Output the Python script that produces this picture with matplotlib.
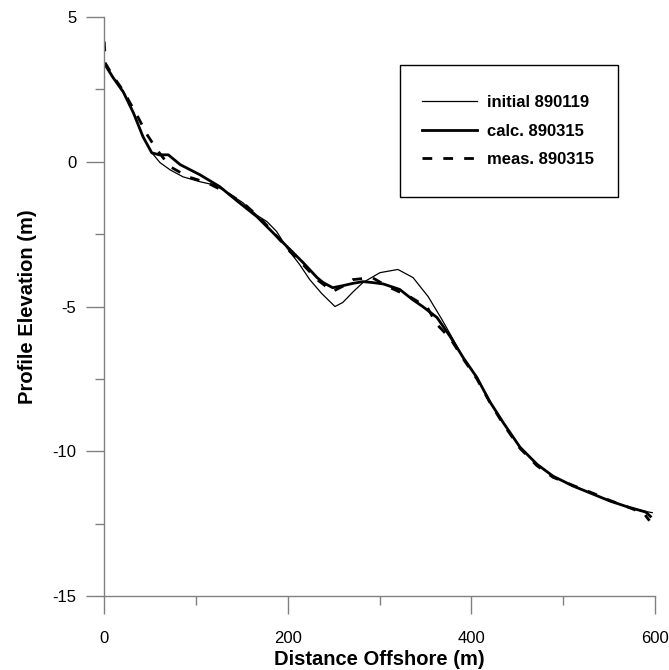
import numpy as np
import matplotlib.pyplot as plt
from matplotlib.ticker import MultipleLocator
from matplotlib.patches import Rectangle

plt.rcParams['font.family'] = ['Liberation Sans', 'DejaVu Sans']
plt.rcParams['axes.unicode_minus'] = False

# initial profile 890119
init_x = [0, 10, 21, 32, 42.5, 52, 61, 72, 86, 104.5, 118.7, 129.6, 151, 166.6, 177.5, 188, 199,
          213, 224, 237, 251.5, 260, 271, 282, 300.5, 320, 336.5, 353, 368, 379, 391, 406, 420,
          434.5, 453, 471.5, 489, 510.7, 532.5, 551, 570, 590, 597]
init_y = [3.41, 2.9, 2.41, 1.69, 0.86, 0.31, -0.03, -0.28, -0.52, -0.69, -0.79, -0.97, -1.41, -1.85,
          -2.07, -2.41, -2.97, -3.55, -4.07, -4.55, -5.0, -4.86, -4.5, -4.17, -3.83, -3.72, -4.0,
          -4.66, -5.45, -6.07, -6.76, -7.45, -8.28, -9.0, -9.86, -10.45, -10.86, -11.2, -11.48,
          -11.72, -11.92, -12.08, -12.12]

# calculated 890315
calc_x = [0, 10, 21, 32, 42.5, 52, 60, 70, 83, 104.5, 126, 146, 166.6, 184, 202.5, 216.7, 232,
          238.5, 249, 260, 271, 282, 292, 304, 322, 336, 347, 362.6, 376.8, 391, 406, 420, 434.5,
          453, 471.5, 489, 510.7, 532.5, 551, 570, 590, 595]
calc_y = [3.41, 2.9, 2.41, 1.69, 0.86, 0.31, 0.24, 0.24, -0.1, -0.45, -0.86, -1.38, -1.9, -2.45,
          -3.03, -3.48, -4.0, -4.17, -4.35, -4.28, -4.2, -4.14, -4.17, -4.22, -4.41, -4.76, -5.0,
          -5.38, -6.03, -6.76, -7.45, -8.28, -9.0, -9.86, -10.45, -10.86, -11.2, -11.48, -11.72,
          -11.92, -12.1, -12.25]

# measured 890315
meas_x = [0.3, 1.5, 10, 21, 36, 47, 57.7, 72, 91.5, 112, 134, 153.5, 170, 186, 202.5, 216.7, 232,
          249, 260, 271, 292, 309, 333, 352, 362, 377, 391, 406, 420, 434.5, 453, 471.5, 489,
          510.7, 532.5, 551, 570, 588, 594]
meas_y = [4.15, 3.4, 2.95, 2.45, 1.6, 0.93, 0.41, -0.17, -0.52, -0.72, -1.07, -1.48, -1.95, -2.5,
          -3.1, -3.55, -4.07, -4.48, -4.3, -4.07, -4.0, -4.31, -4.66, -5.03, -5.6, -6.1, -6.8,
          -7.5, -8.3, -9.05, -9.9, -10.5, -10.9, -11.18, -11.45, -11.7, -11.92, -12.15, -12.4]

fig = plt.figure(figsize=(6.69, 6.70), dpi=100)
ax = fig.add_axes([0.1555, 0.1104, 0.8236, 0.8642])

ax.plot(init_x, init_y, color='black', lw=0.9, label='initial 890119')
ax.plot(calc_x, calc_y, color='black', lw=2.0, label='calc. 890315')
ax.plot(meas_x, meas_y, color='black', lw=2.0, dashes=(3.5, 4), label='meas. 890315')

ax.set_xlim(0, 600)
ax.set_ylim(-15, 5)
ax.xaxis.set_major_locator(MultipleLocator(200))
ax.xaxis.set_minor_locator(MultipleLocator(100))
ax.yaxis.set_major_locator(MultipleLocator(5))
ax.yaxis.set_minor_locator(MultipleLocator(2.5))

for s in ['top', 'right']:
    ax.spines[s].set_visible(False)
for s in ['left', 'bottom']:
    ax.spines[s].set_color('#808080')
    ax.spines[s].set_linewidth(1.0)

ax.tick_params(which='major', direction='out', length=13, width=1.0, color='#808080',
               labelsize=12, pad=7)
ax.tick_params(which='minor', direction='out', length=6.5, width=1.0, color='#808080')
ax.tick_params(axis='x', which='major', pad=12)

ax.set_xlabel('Distance Offshore (m)', fontsize=14.5, fontweight='bold', labelpad=3)
ax.set_ylabel('Profile Elevation (m)', fontsize=14.5, fontweight='bold', labelpad=11)

# legend box
ax.add_patch(Rectangle((0.537, 0.689), 0.396, 0.228, transform=ax.transAxes,
                       facecolor='white', edgecolor='black', lw=1.0, zorder=4))
leg = ax.legend(loc='center', bbox_to_anchor=(0.733, 0.803), frameon=False,
                prop={'size': 12, 'weight': 'bold'}, labelspacing=0.8,
                handlelength=3.3, handletextpad=0.6, borderpad=0, borderaxespad=0)
leg.set_zorder(5)

fig.savefig('out.png', dpi=100)
